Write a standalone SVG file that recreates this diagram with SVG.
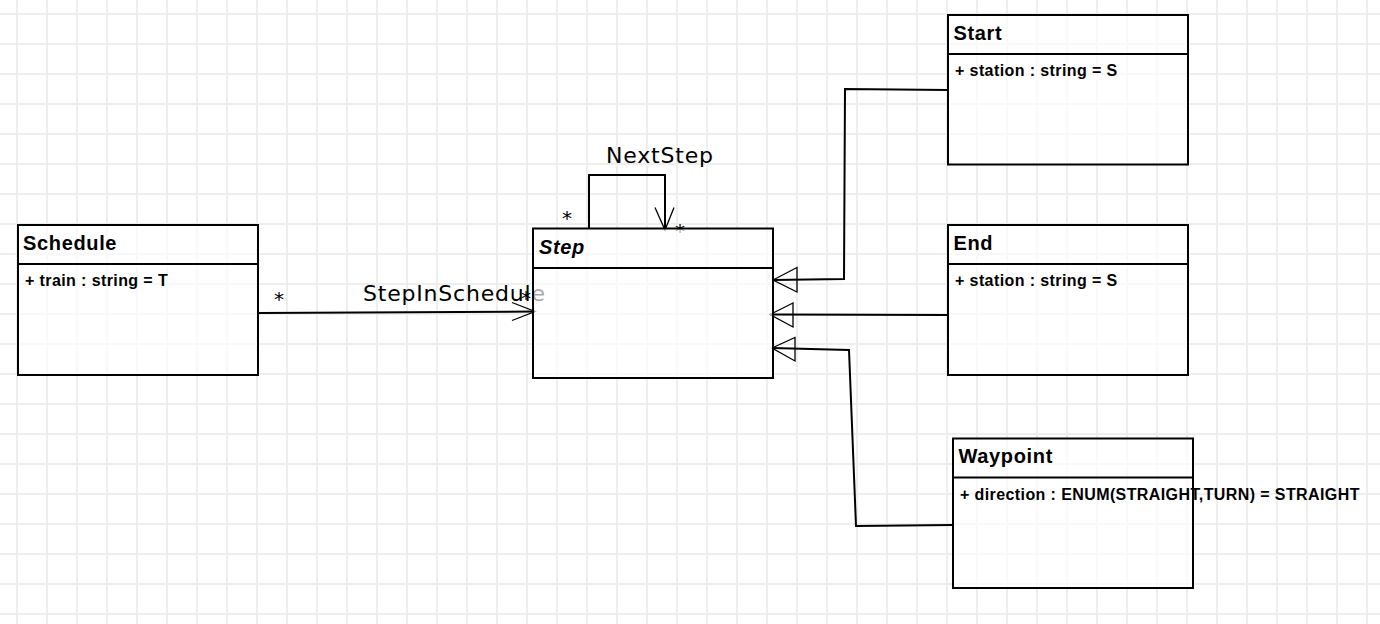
<svg xmlns="http://www.w3.org/2000/svg" width="1380" height="624" viewBox="0 0 1380 624">
<style>
.box{fill:#ffffff;fill-opacity:0.65;stroke:#000;stroke-width:2}
.div{stroke:#000;stroke-width:2}
.title{font-family:"Liberation Sans",Arial,sans-serif;font-weight:bold;font-size:20px;letter-spacing:0.65px;fill:#000}
.attr{font-family:"Liberation Sans",Arial,sans-serif;font-weight:bold;font-size:16px;letter-spacing:0.4px;fill:#000}
.edge{fill:none;stroke:#000;stroke-width:2}
.head{fill:none;stroke:#000;stroke-width:1.3}
.lbl{font-family:"DejaVu Sans",Verdana,sans-serif;font-size:22px;letter-spacing:0.8px;fill:#000}
.star{font-family:"DejaVu Sans",Verdana,sans-serif;font-size:20px;fill:#000}
</style>
<defs>
<pattern id="grid" patternUnits="userSpaceOnUse" x="2" y="-1" width="30" height="30">
<path d="M15 0V30M0 15H30" stroke="#eeeeee" stroke-width="2" fill="none"/>
</pattern>
</defs>
<rect width="1380" height="624" fill="#ffffff"/>
<rect width="1380" height="624" fill="url(#grid)"/>

<g id="connectors">
<g id="e-schedule-step">
<path class="edge" d="M258 313L535 311.5"/>
<path class="head" d="M512 302.5L535 311.5L512 320.5"/>
<text class="star" x="274" y="306">*</text>
<text class="lbl" x="363" y="301">StepInSchedule</text>
<text class="star" x="521" y="305">*</text>
</g>
<g id="e-nextstep">
<path class="edge" d="M589 229V175H665V229.5"/>
<path class="head" d="M655 207.5L665 230L674 207.5"/>
<text class="star" x="562" y="225">*</text>
<text class="star" x="675" y="238">*</text>
<text class="lbl" x="606" y="163">NextStep</text>
</g>
<g id="e-start-step">
<path class="edge" d="M948 90L845 89L844 279L773 280"/>
<path class="head" d="M773 280L797 267.5V292Z"/>
</g>
<g id="e-end-step">
<path class="edge" d="M948 315L770 314.5"/>
<path class="head" d="M770 314.5L793 303V327Z"/>
</g>
<g id="e-waypoint-step">
<path class="edge" d="M953 525L856 526L849 350L772 348"/>
<path class="head" d="M772 348L795 337.5V361Z"/>
</g>
</g>

<g id="node-schedule">
<rect class="box" x="18" y="225" width="240" height="150"/>
<line class="div" x1="18" y1="264" x2="258" y2="264"/>
<text class="title" x="23" y="249.5">Schedule</text>
<text class="attr" x="25" y="286">+ train : string = T</text>
</g>

<g id="node-step">
<rect class="box" x="533" y="228.5" width="240" height="149.5"/>
<line class="div" x1="533" y1="268" x2="773" y2="268"/>
<text class="title" x="539" y="253.5" font-style="italic">Step</text>
</g>

<g id="node-start">
<rect class="box" x="948" y="15" width="240" height="149.5"/>
<line class="div" x1="948" y1="54" x2="1188" y2="54"/>
<text class="title" x="953.5" y="39.5">Start</text>
<text class="attr" x="955" y="76">+ station : string = S</text>
</g>

<g id="node-end">
<rect class="box" x="948" y="225" width="240" height="150"/>
<line class="div" x1="948" y1="264" x2="1188" y2="264"/>
<text class="title" x="953.5" y="249.5">End</text>
<text class="attr" x="955" y="286">+ station : string = S</text>
</g>

<g id="node-waypoint">
<rect class="box" x="953" y="438.5" width="240" height="149.5"/>
<line class="div" x1="953" y1="477.5" x2="1193" y2="477.5"/>
<text class="title" x="958.5" y="463">Waypoint</text>
<text class="attr" x="960" y="500">+ direction : ENUM(STRAIGHT,TURN) = STRAIGHT</text>
</g>
</svg>
